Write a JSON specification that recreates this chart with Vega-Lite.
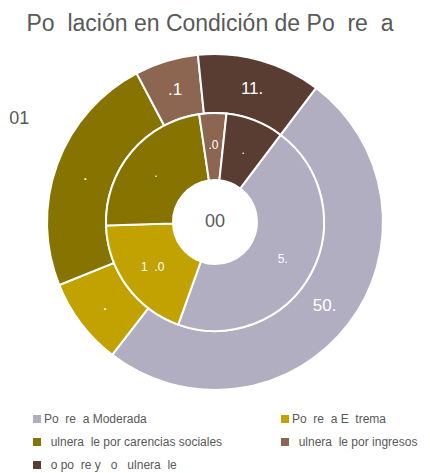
{
  "$schema": "https://vega.github.io/schema/vega-lite/v6.json",
  "width": 430,
  "height": 444,
  "autosize": {"type": "none"},
  "padding": {"top": 0, "left": 0, "right": 0, "bottom": 29},
  "background": "white",
  "title": {
    "text": "Po\u00a0\u00a0lación en Condición de Po\u00a0\u00a0re\u00a0\u00a0a",
    "font": "Liberation Sans",
    "fontSize": 23,
    "fontWeight": "normal",
    "color": "#595959",
    "anchor": "middle",
    "frame": "group",
    "baseline": "alphabetic",
    "offset": -54,
    "dx": -5
  },
  "config": {"view": {"stroke": null}},
  "datasets": {
    "outer": [
      {"ord": 1, "cat": "Po\u00a0\u00a0re\u00a0\u00a0a Moderada", "v": 50.2, "lab": "50."},
      {"ord": 2, "cat": "Po\u00a0\u00a0re\u00a0\u00a0a E\u00a0\u00a0trema", "v": 8.4, "lab": "."},
      {"ord": 3, "cat": "\u200b\u00a0\u00a0ulnera\u00a0\u00a0le por carencias sociales", "v": 23.4, "lab": "."},
      {"ord": 4, "cat": "\u200b\u00a0\u00a0ulnera\u00a0\u00a0le por ingresos", "v": 6.1, "lab": ".1"},
      {"ord": 5, "cat": "\u200b\u00a0\u00a0o po\u00a0\u00a0re y\u00a0\u00a0\u00a0o\u00a0\u00a0\u00a0ulnera\u00a0\u00a0le", "v": 11.9, "lab": "11."}
    ],
    "inner": [
      {"ord": 1, "cat": "Po\u00a0\u00a0re\u00a0\u00a0a Moderada", "v": 45.2, "lab": "5."},
      {"ord": 2, "cat": "Po\u00a0\u00a0re\u00a0\u00a0a E\u00a0\u00a0trema", "v": 19.0, "lab": "1\u00a0\u00a0.0"},
      {"ord": 3, "cat": "\u200b\u00a0\u00a0ulnera\u00a0\u00a0le por carencias sociales", "v": 23.2, "lab": "."},
      {"ord": 4, "cat": "\u200b\u00a0\u00a0ulnera\u00a0\u00a0le por ingresos", "v": 4.0, "lab": ".0"},
      {"ord": 5, "cat": "\u200b\u00a0\u00a0o po\u00a0\u00a0re y\u00a0\u00a0\u00a0o\u00a0\u00a0\u00a0ulnera\u00a0\u00a0le", "v": 8.6, "lab": "."}
    ],
    "center": [{"t": "00"}],
    "side": [{"t": "01", "a": 297.7}]
  },
  "resolve": {"scale": {"theta": "independent"}},
  "layer": [
    {
      "data": {"name": "outer"},
      "mark": {"type": "arc", "outerRadius": 168, "innerRadius": 109, "stroke": "white", "strokeWidth": 2},
      "encoding": {
        "theta": {"field": "v", "type": "quantitative", "stack": true, "scale": {"range": [0.6458, 6.929]}},
        "order": {"field": "ord", "type": "quantitative"},
        "color": {
          "field": "cat",
          "type": "nominal",
          "sort": null,
          "scale": {
            "domain": [
              "Po\u00a0\u00a0re\u00a0\u00a0a Moderada",
              "Po\u00a0\u00a0re\u00a0\u00a0a E\u00a0\u00a0trema",
              "\u200b\u00a0\u00a0ulnera\u00a0\u00a0le por carencias sociales",
              "\u200b\u00a0\u00a0ulnera\u00a0\u00a0le por ingresos",
              "\u200b\u00a0\u00a0o po\u00a0\u00a0re y\u00a0\u00a0\u00a0o\u00a0\u00a0\u00a0ulnera\u00a0\u00a0le"
            ],
            "range": ["#B1AEC1", "#C2A200", "#877300", "#8C6650", "#5A3D32"]
          },
          "legend": {
            "orient": "none",
            "legendX": 31,
            "legendY": 413,
            "direction": "horizontal",
            "columns": 2,
            "columnPadding": 56,
            "rowPadding": 11,
            "symbolType": "square",
            "symbolSize": 64,
            "symbolStrokeWidth": 0,
            "labelFont": "Liberation Sans",
            "labelFontSize": 12,
            "labelColor": "#595959",
            "labelOffset": 1,
            "labelLimit": 300,
            "title": null
          }
        }
      }
    },
    {
      "data": {"name": "inner"},
      "mark": {"type": "arc", "outerRadius": 109, "innerRadius": 42, "stroke": "white", "strokeWidth": 2},
      "encoding": {
        "theta": {"field": "v", "type": "quantitative", "stack": true, "scale": {"range": [0.6458, 6.929]}},
        "order": {"field": "ord", "type": "quantitative"},
        "color": {"field": "cat", "type": "nominal", "sort": null}
      }
    },
    {
      "data": {"name": "outer"},
      "mark": {"type": "text", "radius": 138, "fontSize": 17, "font": "Liberation Sans", "fill": "white"},
      "encoding": {
        "theta": {"field": "v", "type": "quantitative", "stack": true, "scale": {"range": [0.6458, 6.929]}},
        "order": {"field": "ord", "type": "quantitative"},
        "text": {"field": "lab"}
      }
    },
    {
      "data": {"name": "inner"},
      "mark": {"type": "text", "radius": 77, "fontSize": 12, "font": "Liberation Sans", "fill": "white"},
      "encoding": {
        "theta": {"field": "v", "type": "quantitative", "stack": true, "scale": {"range": [0.6458, 6.929]}},
        "order": {"field": "ord", "type": "quantitative"},
        "text": {"field": "lab"}
      }
    },
    {
      "data": {"name": "center"},
      "mark": {"type": "text", "fontSize": 18, "font": "Liberation Sans", "fill": "#595959"},
      "encoding": {"text": {"field": "t"}}
    },
    {
      "data": {"name": "side"},
      "mark": {"type": "text", "radius": 221, "fontSize": 18, "font": "Liberation Sans", "fill": "#595959"},
      "encoding": {
        "theta": {"field": "a", "type": "quantitative", "stack": null, "scale": {"domain": [0, 360], "range": [0, 6.2832]}},
        "text": {"field": "t"}
      }
    }
  ]
}
